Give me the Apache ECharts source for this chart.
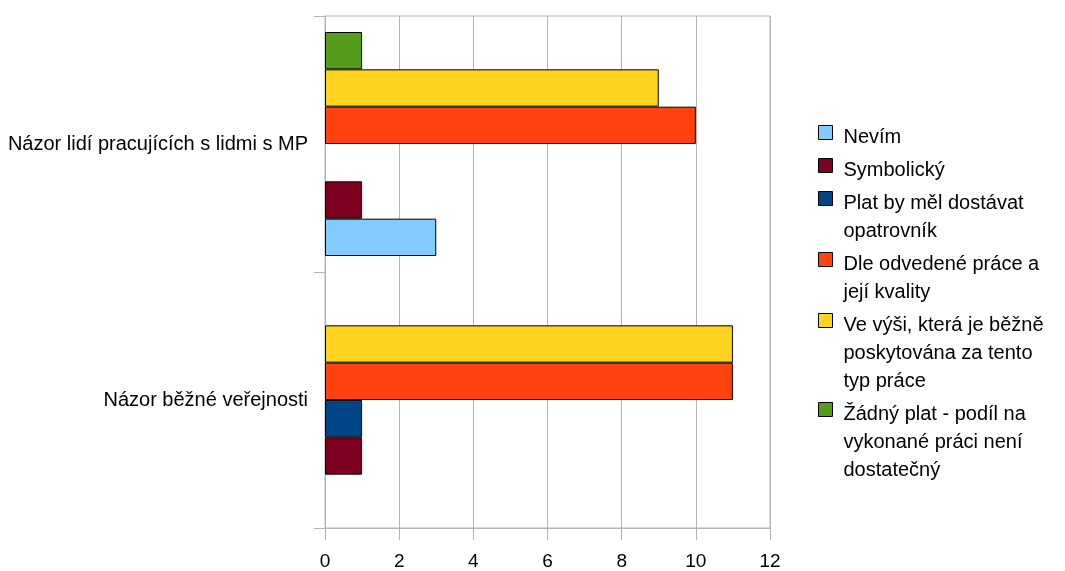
<!DOCTYPE html>
<html>
<head>
<meta charset="utf-8">
<script src="https://cdn.jsdelivr.net/npm/echarts@6/dist/echarts.min.js"></script>
<style>
  html, body { margin: 0; padding: 0; background: #ffffff; }
  #chart { width: 1065px; height: 571px; }
</style>
</head>
<body>
<div id="chart"></div>
<script>
// Categories, top to bottom on the vertical axis
const categories = ['Názor lidí pracujících s lidmi s MP', 'Názor běžné veřejnosti'];

// Legend texts, split into their display lines
const legendLines = [
  ['Nevím'],
  ['Symbolický'],
  ['Plat by měl dostávat', 'opatrovník'],
  ['Dle odvedené práce a', 'její kvality'],
  ['Ve výši, která je běžně', 'poskytována za tento', 'typ práce'],
  ['Žádný plat - podíl na', 'vykonané práci není', 'dostatečný']
];
const seriesNames = legendLines.map(l => l.join(' '));

// Values per series, in category order
const nevim       = [3, null];
const symbolicky  = [1, 1];
const platOpatr   = [null, 1];
const dleOdvedene = [10, 11];
const veVysi      = [9, 11];
const zadnyPlat   = [1, null];
const seriesValues = [nevim, symbolicky, platOpatr, dleOdvedene, veVysi, zadnyPlat];

const seriesColors = ['#83caff', '#7e0021', '#004586', '#ff420e', '#ffd320', '#579d1c'];

// Value axis range
const xMin = 0, xMax = 12, xStep = 2;

const FONT = 'Liberation Sans, Arial, sans-serif';
const GRID_COLOR = '#b3b3b3';
const LINE_H = 28;
const TEXT_SIZE = 20;

// One legend block per series so the swatch sits beside the first text line
const legends = [];
let legendTop = 123;
legendLines.forEach((lines, i) => {
  const h = lines.length * LINE_H;
  legends.push({
    orient: 'vertical',
    left: 818,
    top: legendTop,
    padding: 0,
    itemWidth: 14,
    itemHeight: h,
    icon: 'path://M0,0M0,' + h + 'M0,2H14V16H0Z',
    itemStyle: { borderColor: '#000000', borderWidth: 1 },
    data: [seriesNames[i]],
    formatter: () => lines.join('\n'),
    textStyle: {
      fontFamily: FONT,
      fontSize: TEXT_SIZE,
      lineHeight: LINE_H,
      color: '#000000',
      padding: [0, 0, 0, 6]
    }
  });
  legendTop += h + 5;
});

// Bars stack inside each band from the top, so the first series
// (Nevím) is added last to sit at the bottom of its band.
const barSeries = seriesNames.map((name, i) => ({
  name: name,
  type: 'bar',
  data: seriesValues[i],
  barGap: '0%',
  barCategoryGap: '12.5%',
  itemStyle: { color: seriesColors[i], borderColor: '#000000', borderWidth: 1 }
})).reverse();

const chart = echarts.init(document.getElementById('chart'), null, { renderer: 'canvas' });

chart.setOption({
  animation: false,
  backgroundColor: '#ffffff',
  textStyle: { fontFamily: FONT },
  grid: {
    left: 325, right: 295, top: 16, bottom: 43,
    show: true, borderColor: GRID_COLOR, borderWidth: 1
  },
  legend: legends,
  xAxis: {
    type: 'value',
    min: xMin, max: xMax, interval: xStep,
    axisLine: { show: true, lineStyle: { color: GRID_COLOR, width: 1 } },
    axisTick: { show: true, length: 12, lineStyle: { color: GRID_COLOR } },
    splitLine: { show: true, lineStyle: { color: GRID_COLOR, width: 1 } },
    axisLabel: { fontFamily: FONT, fontSize: 19, color: '#000000', margin: 24 }
  },
  yAxis: {
    type: 'category',
    inverse: true,
    data: categories,
    axisLine: { show: true, lineStyle: { color: GRID_COLOR, width: 1 } },
    axisTick: { show: true, length: 11, lineStyle: { color: GRID_COLOR } },
    axisLabel: { fontFamily: FONT, fontSize: TEXT_SIZE, color: '#000000', margin: 17 }
  },
  series: barSeries
});
</script>
</body>
</html>
